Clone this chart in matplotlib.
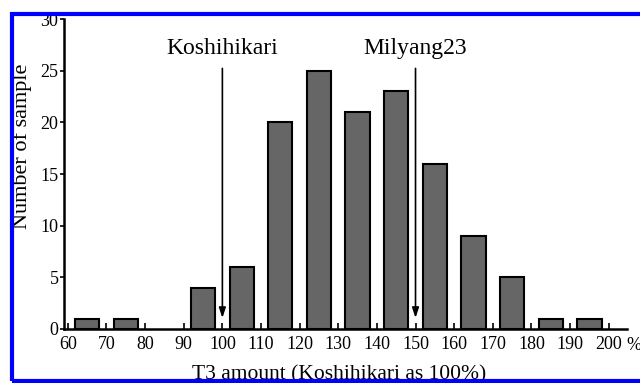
"""T3量の分布をヒストグラム風の棒グラフで表示する."""
import matplotlib
matplotlib.use("Agg")
import matplotlib.pyplot as plt
from matplotlib.patches import Rectangle

# 階級の中心 (%) と サンプル数
bin_centers = [65, 75, 85, 95, 105, 115, 125, 135, 145, 155, 165, 175, 185, 195]
counts = [1, 1, 0, 4, 6, 20, 25, 21, 23, 16, 9, 5, 1, 1]

# 品種の位置
variety_names = ["Koshihikari", "Milyang23"]
variety_pos = [100, 150]

x_ticks = list(range(60, 201, 10))
y_ticks = list(range(0, 31, 5))

plt.rcParams["font.family"] = ["Liberation Serif", "DejaVu Serif"]

fig = plt.figure(figsize=(6.4, 3.83), dpi=100)
ax = fig.add_axes([0.1, 0.141, 0.88, 0.809])

# 0件の階級は枠線も描かない
edge_widths = [1.5 if c > 0 else 0 for c in counts]
ax.bar(bin_centers, counts, width=6.3, color="#666666",
       edgecolor="black", linewidth=edge_widths, zorder=3)

ax.set_xlim(59, 204.8)
ax.set_ylim(0, 30)
ax.set_xticks(x_ticks)
ax.set_yticks(y_ticks)
ax.tick_params(axis="x", direction="in", length=4, width=1.2,
               labelsize=13, pad=5)
ax.tick_params(axis="y", direction="out", length=3, width=1.2,
               labelsize=13, pad=1)
for s in ["top", "right"]:
    ax.spines[s].set_visible(False)
for s in ["left", "bottom"]:
    ax.spines[s].set_linewidth(1.8)

ax.set_ylabel("Number of sample", fontsize=16)
ax.yaxis.set_label_coords(-0.074, 0.59)
ax.yaxis.label.set_va("center")
ax.set_xlabel("T3 amount (Koshihikari as 100%)", fontsize=15.5)
ax.xaxis.set_label_coords(0.488, -0.148)
ax.xaxis.label.set_va("center")

# 品種の矢印
for name, pos in zip(variety_names, variety_pos):
    ax.annotate("", xy=(pos, 0.8), xytext=(pos, 25.5),
                arrowprops=dict(arrowstyle="-|>,head_length=0.6,head_width=0.2",
                                color="black", lw=1.2))
    ax.text(pos, 26.1, name, ha="center", va="bottom", fontsize=17)

fig.text(0.979, 0.097, "%", fontsize=13, ha="left", va="center")

# 青い枠
fig.patches.append(Rectangle((12 / 640, 2 / 383), 0.99, 367 / 383,
                             transform=fig.transFigure, fill=False,
                             edgecolor="#0000ff", linewidth=3, zorder=10))

fig.savefig("out.png", dpi=100)
